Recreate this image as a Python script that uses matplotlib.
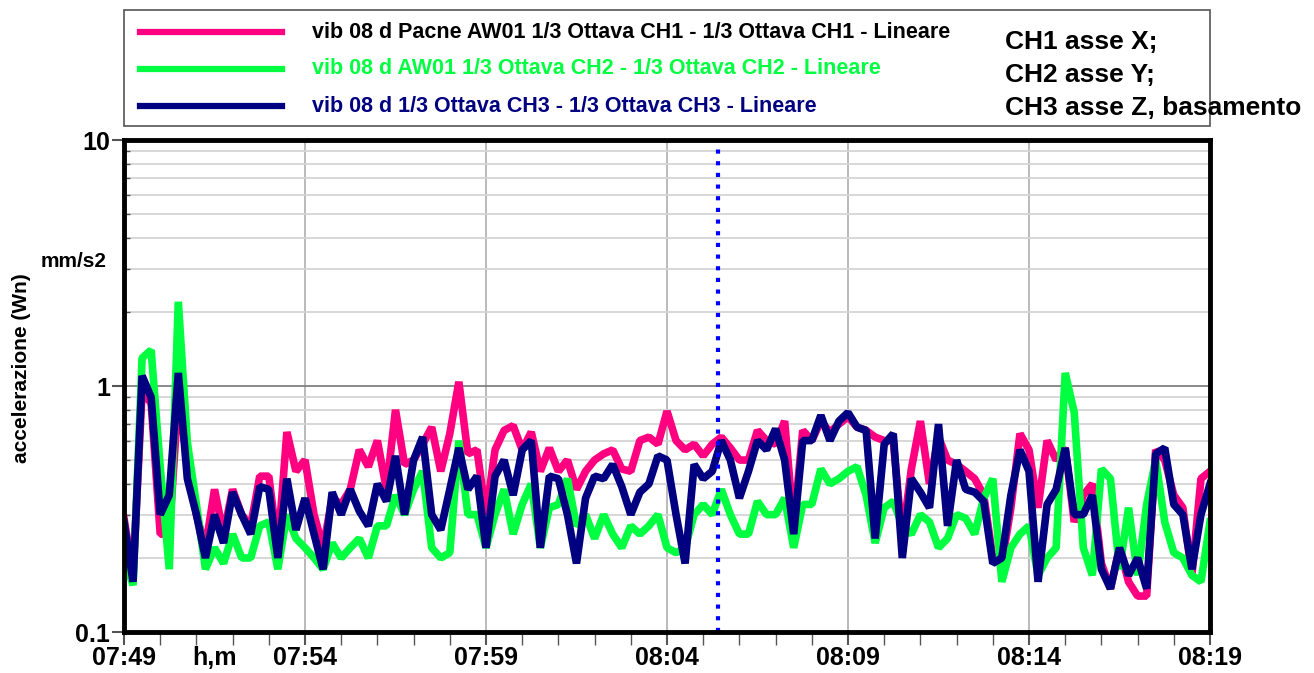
import matplotlib.pyplot as plt
from matplotlib.patches import Rectangle
from matplotlib.lines import Line2D
from matplotlib.ticker import FixedLocator, NullFormatter
import numpy as np

# dati: un campione ogni 15 s a partire dalle 07:49:00
passo_s = 15

ch1_rosa = [0.29, 0.17, 0.95, 0.85, 0.25, 0.25, 0.90, 0.50, 0.30, 0.22,
            0.38, 0.25, 0.38, 0.30, 0.27, 0.43, 0.43, 0.22, 0.65, 0.45,
            0.50, 0.30, 0.22, 0.35, 0.33, 0.38, 0.55, 0.47, 0.60, 0.38,
            0.80, 0.48, 0.50, 0.58, 0.68, 0.45, 0.64, 1.04, 0.53, 0.55,
            0.30, 0.55, 0.66, 0.69, 0.55, 0.65, 0.45, 0.56, 0.45, 0.50,
            0.38, 0.45, 0.50, 0.53, 0.55, 0.46, 0.45, 0.60, 0.62, 0.58,
            0.79, 0.60, 0.55, 0.58, 0.52, 0.58, 0.62, 0.56, 0.50, 0.50,
            0.66, 0.60, 0.58, 0.72, 0.27, 0.66, 0.60, 0.72, 0.65, 0.70,
            0.75, 0.68, 0.66, 0.62, 0.60, 0.60, 0.24, 0.46, 0.72, 0.40,
            0.62, 0.50, 0.48, 0.45, 0.42, 0.36, 0.20, 0.19, 0.32, 0.64,
            0.55, 0.32, 0.60, 0.50, 0.56, 0.28, 0.36, 0.40, 0.19, 0.15,
            0.22, 0.16, 0.14, 0.14, 0.55, 0.50, 0.36, 0.32, 0.17, 0.42,
            0.45]

ch2_verde = [0.20, 0.155, 1.30, 1.40, 0.47, 0.18, 2.20, 0.59, 0.33, 0.18,
             0.22, 0.19, 0.25, 0.20, 0.20, 0.27, 0.28, 0.18, 0.30, 0.24,
             0.22, 0.20, 0.18, 0.23, 0.20, 0.22, 0.24, 0.20, 0.27, 0.27,
             0.36, 0.30, 0.38, 0.45, 0.22, 0.20, 0.21, 0.60, 0.30, 0.30,
             0.22, 0.30, 0.38, 0.25, 0.33, 0.40, 0.22, 0.32, 0.33, 0.42,
             0.27, 0.30, 0.24, 0.30, 0.25, 0.22, 0.27, 0.25, 0.27, 0.30,
             0.22, 0.21, 0.22, 0.30, 0.33, 0.30, 0.38, 0.30, 0.25, 0.25,
             0.34, 0.30, 0.30, 0.35, 0.22, 0.33, 0.33, 0.46, 0.40, 0.42,
             0.45, 0.47, 0.36, 0.23, 0.32, 0.34, 0.27, 0.25, 0.30, 0.28,
             0.22, 0.24, 0.30, 0.29, 0.25, 0.35, 0.42, 0.16, 0.22, 0.25,
             0.27, 0.17, 0.20, 0.22, 1.13, 0.78, 0.22, 0.17, 0.46, 0.42,
             0.18, 0.32, 0.17, 0.33, 0.50, 0.28, 0.21, 0.20, 0.17, 0.16,
             0.28]

ch3_blu = [0.28, 0.16, 1.10, 0.90, 0.30, 0.36, 1.13, 0.42, 0.30, 0.20,
           0.30, 0.23, 0.37, 0.30, 0.25, 0.39, 0.38, 0.20, 0.42, 0.26,
           0.35, 0.25, 0.18, 0.37, 0.30, 0.38, 0.31, 0.27, 0.40, 0.34,
           0.52, 0.30, 0.50, 0.62, 0.30, 0.26, 0.38, 0.56, 0.38, 0.43,
           0.22, 0.43, 0.50, 0.36, 0.55, 0.60, 0.22, 0.43, 0.42, 0.30,
           0.19, 0.35, 0.43, 0.42, 0.48, 0.39, 0.30, 0.37, 0.40, 0.52,
           0.50, 0.30, 0.19, 0.48, 0.42, 0.45, 0.60, 0.50, 0.35, 0.45,
           0.60, 0.55, 0.67, 0.50, 0.25, 0.60, 0.60, 0.76, 0.60, 0.72,
           0.78, 0.68, 0.66, 0.24, 0.58, 0.64, 0.20, 0.42, 0.37, 0.32,
           0.70, 0.27, 0.50, 0.38, 0.37, 0.34, 0.19, 0.20, 0.36, 0.55,
           0.45, 0.16, 0.33, 0.38, 0.56, 0.30, 0.30, 0.36, 0.18, 0.15,
           0.22, 0.17, 0.20, 0.15, 0.53, 0.56, 0.33, 0.30, 0.18, 0.30,
           0.40]

etichette_x = ['07:49', '07:54', '07:59', '08:04', '08:09', '08:14', '08:19']
minuti_x = [0, 5, 10, 15, 20, 25, 30]
cursore_min = 16.4   # linea tratteggiata blu (circa 08:05:24)

legenda = ['vib 08 d Pacne AW01 1/3 Ottava CH1 - 1/3 Ottava CH1 - Lineare',
           'vib 08 d AW01 1/3 Ottava CH2 - 1/3 Ottava CH2 - Lineare',
           'vib 08 d 1/3 Ottava CH3 - 1/3 Ottava CH3 - Lineare']
note_assi = ['CH1 asse X;', 'CH2 asse Y;', 'CH3 asse Z, basamento']

rosa, verde, blu = '#ff0080', '#00ff40', '#000080'
plt.rcParams['font.family'] = ['Liberation Sans', 'DejaVu Sans']

minuti = np.arange(len(ch3_blu)) * passo_s / 60.0

fig = plt.figure(figsize=(13.14, 6.73), dpi=100)
ax = fig.add_axes([124/1314, 1 - 632/673, (1210-124)/1314, (632-140)/673])

for serie, col in [(ch1_rosa, rosa), (ch2_verde, verde), (ch3_blu, blu)]:
    ax.plot(minuti, serie, color=col, lw=5.5, solid_joinstyle='bevel')

ax.axvline(cursore_min, color='#0000ff', lw=3, ls=(0, (1, 1.8)))

ax.set_yscale('log')
ax.set_ylim(0.1, 10)
ax.set_xlim(0, 30)

# griglia
ax.yaxis.set_minor_locator(FixedLocator([m * 10.0**e for e in (-1, 0) for m in range(2, 10)]))
ax.yaxis.set_minor_formatter(NullFormatter())
ax.grid(True, which='minor', axis='y', color='#d4d4d4', lw=1.3)
ax.grid(True, which='major', axis='y', color='#808080', lw=1.3)
ax.grid(True, which='major', axis='x', color='#b4b4b4', lw=1.3)

ax.set_xticks(minuti_x)
ax.set_xticklabels(etichette_x)
ax.set_xticks(np.arange(0, 31, 1), minor=True)
ax.set_yticks([0.1, 1, 10])
ax.set_yticklabels(['0.1', '1', '10'])
ax.tick_params(axis='both', which='major', labelsize=18, length=9, width=1.5, color='#555555', pad=1)
ax.tick_params(axis='x', which='minor', length=9, width=1, color='#555555')
ax.tick_params(axis='y', which='minor', length=4, width=1, direction='in', color='#555555')
for lab in ax.get_xticklabels() + ax.get_yticklabels():
    lab.set_fontweight('bold')
for sp in ax.spines.values():
    sp.set_linewidth(3.5)
    sp.set_color('black')

fig.text(215/1314, 1 - 658/673, 'h,m', ha='center', va='center', fontsize=18, fontweight='bold')
fig.text(22/1314, 1 - 368/673, 'accelerazione (Wn)', rotation=90, ha='center', va='center',
         fontsize=15, fontweight='bold')
fig.text(74/1314, 1 - 262/673, 'mm/s2', ha='center', va='center', fontsize=15, fontweight='bold')

# riquadro legenda
fig.patches.append(Rectangle((124/1314, 1 - 126/673), (1210-124)/1314, 116/673,
                             transform=fig.transFigure, fill=False, ec='#555555', lw=1.2))
for k, (testo, col) in enumerate(zip(legenda, [rosa, verde, blu])):
    yy = 1 - (32 + 37*k)/673
    fig.lines.append(Line2D([140/1314, 282/1314], [yy, yy], transform=fig.transFigure,
                            color=col, lw=4.5))
    fig.text(312/1314, yy, testo, color='black' if k == 0 else col, ha='left', va='center',
             fontsize=15.5, fontweight='bold')
for k, testo in enumerate(note_assi):
    fig.text(1005/1314, 1 - (42 + 33*k)/673, testo, ha='left', va='center',
             fontsize=19, fontweight='bold')

fig.savefig('out.png', dpi=100)
